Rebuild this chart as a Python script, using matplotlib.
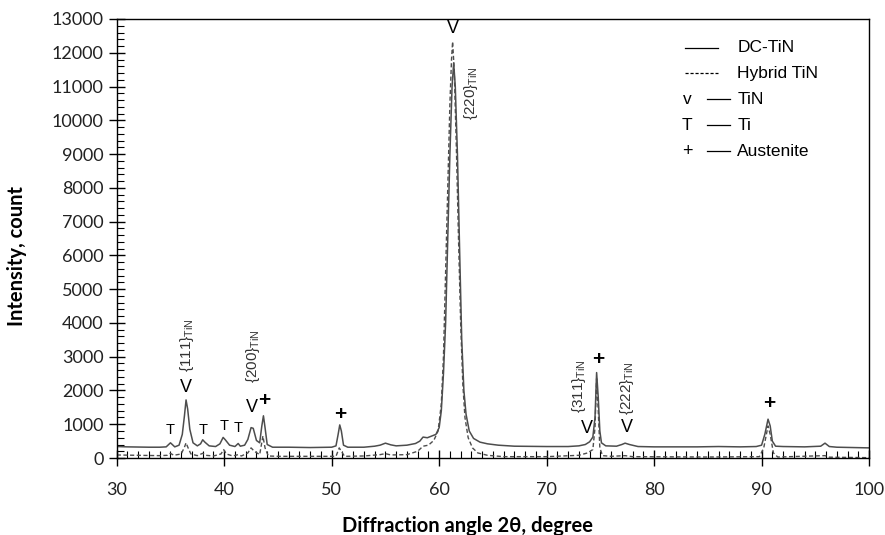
import numpy as np
import matplotlib
matplotlib.use("Agg")
import matplotlib.pyplot as plt
from matplotlib.ticker import MultipleLocator
from matplotlib.lines import Line2D

# DC-TiN pattern (solid line)
dc_angle = [30.0, 31.0, 32.0, 33.0, 34.0, 34.6, 35.0, 35.4, 35.8, 36.1, 36.3, 36.45, 36.6, 36.8,
            37.1, 37.5, 37.8, 38.0, 38.2, 38.6, 39.2, 39.6, 39.9, 40.1, 40.5, 41.0, 41.3, 41.5,
            41.9, 42.2, 42.5, 42.7, 43.0, 43.3, 43.5, 43.65, 43.8, 44.0, 44.5, 46.0, 48.0, 50.0,
            50.4, 50.6, 50.75, 50.9, 51.1, 51.5, 53.0, 54.0, 54.5, 55.0, 55.5, 56.0, 57.0, 57.8,
            58.2, 58.5, 58.9, 59.3, 59.7, 60.0, 60.2, 60.4, 60.6, 60.8, 61.0, 61.2, 61.35, 61.5,
            61.7, 61.9, 62.1, 62.3, 62.5, 62.8, 63.2, 63.8, 64.5, 65.5, 67.0, 70.0, 72.0, 73.0,
            73.6, 74.0, 74.3, 74.5, 74.65, 74.8, 74.95, 75.1, 75.5, 76.5, 77.0, 77.3, 77.7, 78.5,
            80.0, 84.0, 86.0, 88.0, 89.5, 90.0, 90.3, 90.6, 90.8, 91.0, 91.3, 92.0, 94.0, 95.5,
            95.9, 96.3, 97.0, 100.0]
dc_count = [340, 330, 325, 320, 320, 330, 450, 330, 380, 700, 1250, 1720, 1450, 850,
            450, 360, 420, 540, 470, 360, 340, 420, 610, 540, 380, 340, 430, 350,
            380, 550, 900, 880, 520, 450, 950, 1250, 900, 400, 320, 320, 310, 320,
            360, 700, 980, 800, 380, 320, 320, 350, 380, 440, 390, 360, 380, 430,
            500, 620, 600, 650, 700, 900, 1400, 2500, 4000, 6500, 9000, 11000, 11700, 11000,
            9000, 6200, 3500, 2000, 1300, 800, 580, 470, 420, 380, 350, 340, 340, 360,
            400, 480, 620, 1200, 2530, 1800, 800, 450, 360, 350, 400, 440, 400, 340,
            330, 330, 340, 330, 340, 380, 700, 1150, 950, 500, 350, 340, 330, 350,
            440, 340, 320, 300]

# Hybrid TiN pattern (dashed line)
hy_angle = [30.0, 32.0, 34.0, 34.7, 35.0, 35.3, 36.0, 36.3, 36.45, 36.6, 36.9, 37.5, 38.0, 38.3,
            39.0, 39.7, 39.95, 40.2, 40.8, 41.3, 41.6, 42.2, 42.5, 42.8, 43.3, 43.6, 43.8, 44.1,
            45.0, 48.0, 50.4, 50.7, 50.9, 51.2, 53.0, 54.5, 55.0, 55.5, 57.0, 58.0, 58.5, 59.0,
            59.5, 59.9, 60.2, 60.4, 60.6, 60.8, 61.0, 61.15, 61.25, 61.4, 61.6, 61.8, 62.0, 62.2,
            62.4, 62.7, 63.1, 63.6, 64.5, 66.0, 70.0, 73.0, 73.8, 74.3, 74.5, 74.65, 74.8, 74.95,
            75.2, 76.0, 77.3, 78.0, 85.0, 89.8, 90.2, 90.6, 90.8, 91.1, 91.5, 95.9, 96.3, 100.0]
hy_count = [90, 80, 70, 80, 140, 80, 120, 320, 450, 330, 120, 70, 140, 80,
            60, 120, 250, 120, 60, 100, 60, 150, 300, 200, 100, 650, 300, 60,
            50, 50, 50, 300, 200, 50, 60, 100, 130, 90, 100, 200, 350, 380,
            520, 800, 1600, 3000, 5500, 8000, 10500, 11800, 12330, 11500, 9200, 6500, 4000, 2200,
            1200, 600, 300, 150, 80, 40, 40, 80, 150, 250, 900, 2350, 1400, 300,
            70, 50, 70, 40, 30, 40, 300, 950, 700, 150, 30, 70, 25, 10]

# phase markers: symbol, angle, height
mark_symbol = ["V", "V", "+", "T", "T", "T", "T", "+", "V", "V", "+", "V", "+"]
mark_angle = [36.45, 42.55, 43.75, 34.96, 38.06, 39.98, 41.3, 50.8, 61.3, 73.72, 74.8, 77.44, 90.7]
mark_count = [2100, 1495, 1717, 830, 830, 940, 880, 1300, 12730, 880, 2930, 890, 1600]

# reflection labels
hkl_text = ["{111}", "{200}", "{220}", "{311}", "{222}"]
hkl_angle = [36.5, 42.7, 63.0, 73.0, 77.5]
hkl_count = [2550, 2220, 10000, 1330, 1270]

line_color = "#4d4d4d"
label_font = ["Liberation Sans", "DejaVu Sans"]
axis_font = ["Lato", "DejaVu Sans"]

fig = plt.figure(figsize=(8.85, 5.35), dpi=100)
ax = fig.add_axes([0.1319, 0.1439, 0.8501, 0.8206])

ax.plot(dc_angle, dc_count, color=line_color, linewidth=1.1, linestyle="-")
ax.plot(hy_angle, hy_count, color=line_color, linewidth=1.0, linestyle=(0, (3, 1.8)))

ax.set_xlim(30, 100)
ax.set_ylim(0, 13000)
ax.xaxis.set_major_locator(MultipleLocator(10))
ax.xaxis.set_minor_locator(MultipleLocator(1))
ax.yaxis.set_major_locator(MultipleLocator(1000))
ax.yaxis.set_minor_locator(MultipleLocator(200))
ax.tick_params(which="major", direction="inout", length=11, width=1, color="black",
               labelsize=13, labelcolor="#222222", pad=4)
ax.tick_params(which="minor", direction="in", length=5, width=0.8, color="black")
for lab in ax.get_xticklabels() + ax.get_yticklabels():
    lab.set_family(axis_font)
ax.xaxis.set_tick_params(pad=12)

for sp in ax.spines.values():
    sp.set_linewidth(1.0)

ax.set_xlabel("Diffraction angle 2θ, degree", fontsize=14.5, fontweight="bold", family=axis_font)
ax.set_ylabel("Intensity, count", fontsize=14.5, fontweight="bold", family=axis_font)
ax.xaxis.set_label_coords(0.4656, -0.132)
ax.yaxis.set_label_coords(-0.119, 0.46)

for sym, xa, yc in zip(mark_symbol, mark_angle, mark_count):
    if sym == "T":
        ax.text(xa, yc, sym, ha="center", va="center", fontsize=10.5, family=label_font)
    elif sym == "+":
        ax.text(xa, yc, sym, ha="center", va="center", fontsize=15, fontweight="bold",
                family=label_font)
    else:
        ax.text(xa, yc, sym, ha="center", va="center", fontsize=13, family=label_font)

for txt, xa, yc in zip(hkl_text, hkl_angle, hkl_count):
    ax.text(xa, yc, txt + r"$_{\mathregular{TiN}}$", rotation=90, ha="center", va="bottom",
            fontsize=11, family=label_font, color="#333333")

# legend drawn by hand
rows_y = [0.935, 0.876, 0.817, 0.758, 0.699]
legend_names = ["DC-TiN", "Hybrid TiN", "TiN", "Ti", "Austenite"]
ax.add_line(Line2D([0.755, 0.799], [rows_y[0]] * 2, transform=ax.transAxes,
                   color="black", linewidth=0.9))
ax.add_line(Line2D([0.755, 0.799], [rows_y[1]] * 2, transform=ax.transAxes,
                   color="black", linewidth=0.9, linestyle=(0, (2.5, 1.5))))
for sym, yy in zip(["v", "T", "+"], rows_y[2:]):
    ax.text(0.758, yy, sym, transform=ax.transAxes, ha="center", va="center",
            fontsize=13 if sym == "+" else 12.5, family=label_font)
    ax.add_line(Line2D([0.785, 0.815], [yy] * 2, transform=ax.transAxes,
                       color="black", linewidth=0.9))
for name, yy in zip(legend_names, rows_y):
    ax.text(0.825, yy, name, transform=ax.transAxes, ha="left", va="center",
            fontsize=12.5, family=label_font)

fig.savefig("out.png", dpi=100)
